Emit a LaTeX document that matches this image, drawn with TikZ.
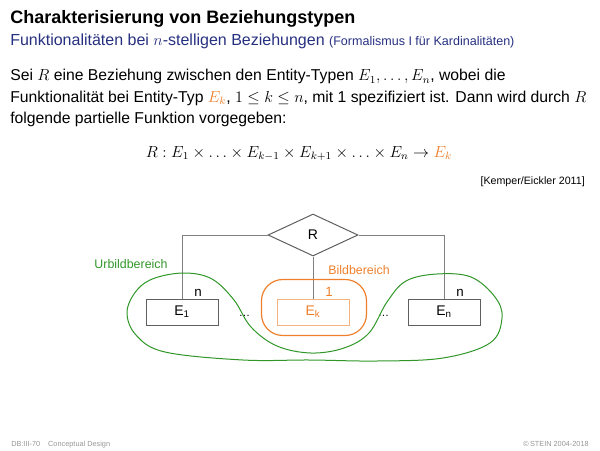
\documentclass[tikz,border=0pt]{standalone}
\usepackage[no-math]{fontspec}
\setmainfont{Liberation Sans}
\usepackage{amsmath,amssymb}
\usepackage{xcolor}
\usetikzlibrary{
  arrows.meta,
  positioning,
  shapes.geometric,
  calc,
}
\definecolor{titleblue}{RGB}{38,48,128}
\definecolor{kardorange}{RGB}{238,128,44}
\definecolor{urbildgreen}{RGB}{48,150,40}
\definecolor{linegray}{RGB}{128,128,128}
\definecolor{boxgray}{RGB}{95,95,95}
\definecolor{footgray}{RGB}{150,150,150}
\tikzset{
  titletext/.style={font=\fontsize{13.5pt}{16pt}\selectfont\bfseries, inner sep=0pt},
  subtext/.style={font=\fontsize{12pt}{14pt}\selectfont, text=titleblue, inner sep=0pt},
  bodytext/.style={font=\fontsize{11.8pt}{16.1pt}\selectfont, inner sep=0pt},
  citetext/.style={font=\fontsize{8pt}{9pt}\selectfont, inner sep=0pt},
  foottext/.style={font=\fontsize{5.5pt}{6pt}\selectfont, text=footgray, inner sep=0pt},
  entbox/.style={
    rectangle, draw=boxgray, line width=0.75pt, fill=white,
    minimum width=54pt, minimum height=19.5pt, inner sep=0pt,
    font=\fontsize{10.5pt}{12pt}\selectfont
  },
  kbox/.style={entbox, draw=kardorange!60, text=kardorange},
  relnode/.style={
    diamond, draw=boxgray, line width=0.75pt, fill=white,
    minimum width=67.5pt, minimum height=31.5pt, inner sep=0pt,
    font=\fontsize{10.5pt}{12pt}\selectfont
  },
  roleedge/.style={line width=0.75pt, linegray},
  cardlabel/.style={font=\fontsize{10pt}{11pt}\selectfont, inner sep=0pt, anchor=south west},
  dotlabel/.style={font=\fontsize{8.5pt}{9pt}\selectfont, inner sep=0pt, anchor=base},
  arealabel/.style={font=\fontsize{9.3pt}{11pt}\selectfont, inner sep=0pt},
  greenblob/.style={line width=0.75pt, urbildgreen},
  orangeblob/.style={line width=0.9pt, kardorange, rounded corners=16pt},
}

\begin{document}
\begin{tikzpicture}[x=0.75pt, y=-0.75pt, node distance=43.5pt]

  \useasboundingbox (0,0) rectangle (600,450);

  % ── Title ──
  \node[titletext, anchor=base west] (title) at (10,23) {Charakterisierung von Beziehungstypen};
  \node[subtext, anchor=base west] (subtitle) at (10,45)
    {Funktionalitäten bei $n$-stelligen Beziehungen {\fontsize{9.4pt}{10pt}\selectfont (Formalismus I für Kardinalitäten)}};

  % ── Text ──
  \node[bodytext, anchor=north west, align=left] (body) at (10,69) {
    Sei $R$ eine Beziehung zwischen den Entity-Typen $E_1, \ldots, E_n$, wobei die\\
    Funktionalität bei Entity-Typ \textcolor{kardorange}{$E_k$}, $1 \le k \le n$, mit 1 spezifiziert ist. Dann wird durch $R$\\
    folgende partielle Funktion vorgegeben:
  };
  \node[bodytext, font=\fontsize{11.5pt}{14pt}\selectfont, anchor=base] (formula) at (299,157)
    {$R : E_1 \times \ldots \times E_{k-1} \times E_{k+1} \times \ldots \times E_n \to \textcolor{kardorange}{E_k}$};
  \node[citetext, anchor=base east] (cite) at (585,184) {[Kemper/Eickler 2011]};

  % ── ER diagram ──
  \node[relnode] (R) at (313,235) {R};
  \node[kbox] (Ek) at (313,312) {E\textsubscript{k}};
  \node[entbox, left=of Ek] (E1) {E\textsubscript{1}};
  \node[entbox, right=of Ek] (En) {E\textsubscript{n}};

  \draw[roleedge] (R.west) -| (E1.north);
  \draw[roleedge] (R.east) -| (En.north);
  \draw[roleedge] (R.south) -- (Ek.north);

  \node[cardlabel] at ($(E1.north)+(12,-2)$) {n};
  \node[cardlabel, text=kardorange] at ($(Ek.north)+(12,-2)$) {1};
  \node[cardlabel] at ($(En.north)+(12,-2)$) {n};

  \node[dotlabel] (dots1) at ($(E1.east)!0.5!(Ek.west)+(-3,4)$) {\ldots};
  \node[dotlabel] (dots2) at ($(Ek.east)!0.5!(En.west)+(5,4)$) {\ldots};

  % ── Bildbereich / Urbildbereich ──
  \draw[orangeblob] ($(Ek.north west)+(-15,-19)$) rectangle ($(Ek.south east)+(17,10)$);
  \draw[greenblob] plot[smooth cycle, tension=0.6] coordinates {
    (185,273) (212,279) (234,300) (251,327) (277,346) (311,353) (344,348)
    (369,333) (387,302) (406,281) (437,274) (471,277) (495,297) (502,318)
    (490,343) (443,358) (377,361) (310,360) (243,360) (165,352) (136,335)
    (127,312) (137,290) (155,278)
  };
  \node[arealabel, text=urbildgreen] (urbild) at (131,264) {Urbildbereich};
  \node[arealabel, text=kardorange] (bild) at (359,270) {Bildbereich};

  % ── Footer ──
  \node[foottext, anchor=base west] (footl) at (11,446) {DB:III-70\hspace{6pt}Conceptual Design};
  \node[foottext, anchor=base east] (footr) at (589,446) {\textcopyright\,STEIN 2004-2018};

\end{tikzpicture}
\end{document}
